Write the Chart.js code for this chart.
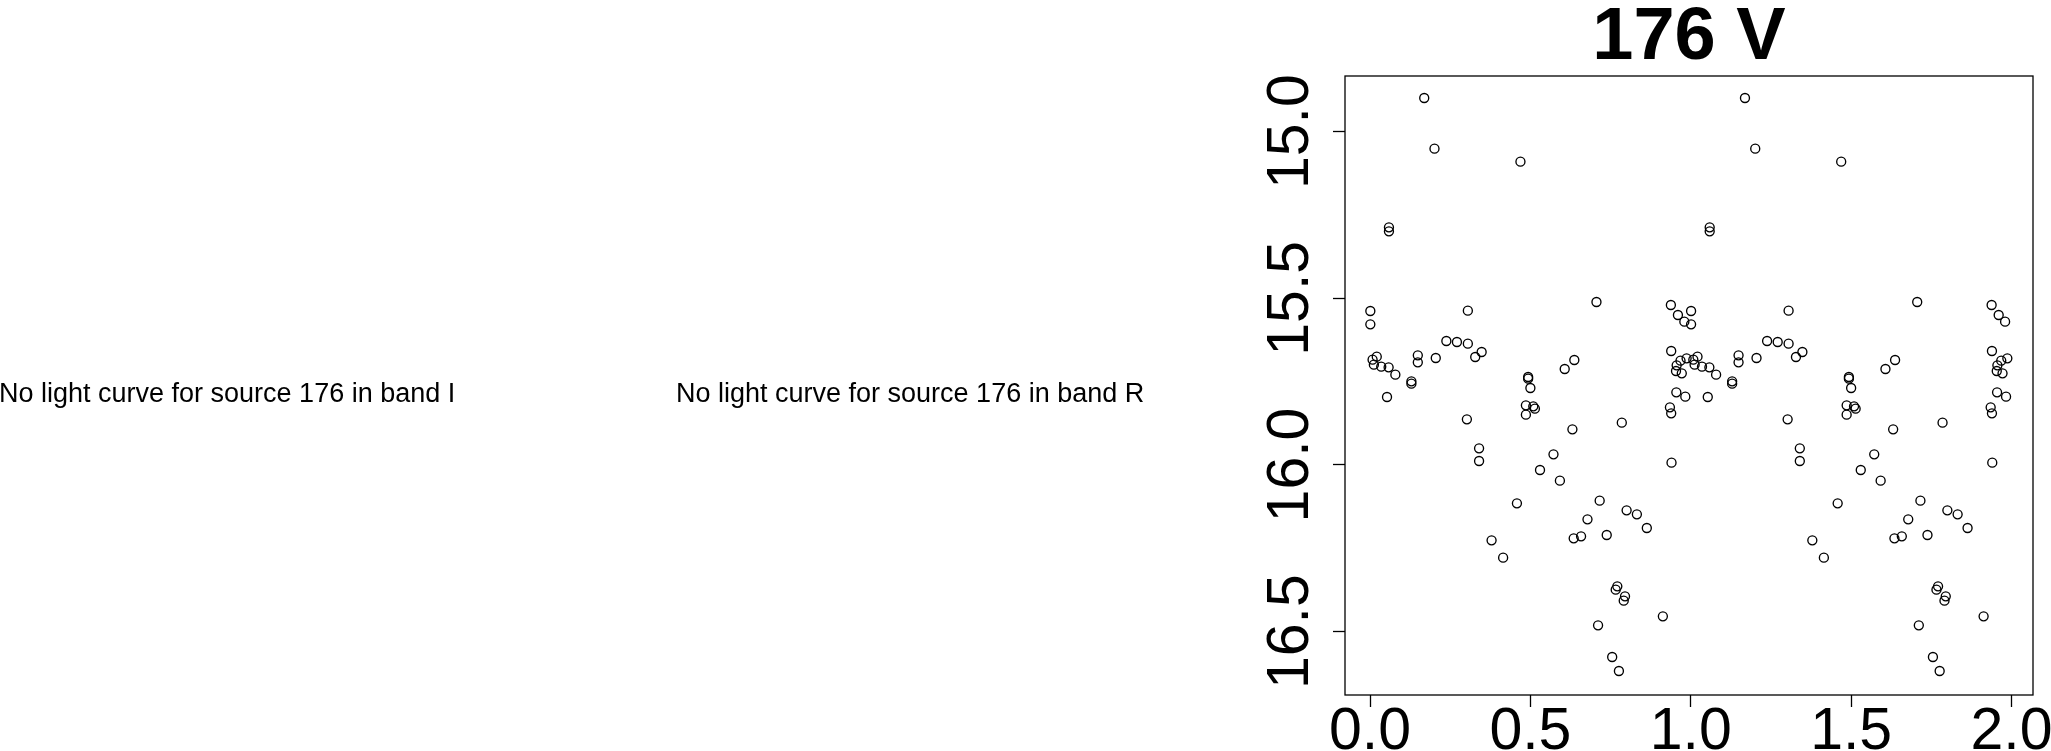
<!DOCTYPE html>
<html>
<head>
<meta charset="utf-8">
<title>176 V</title>
<script src="https://cdn.jsdelivr.net/npm/chart.js@4.4.1/dist/chart.umd.min.js"></script>
<style>
  html, body { margin: 0; padding: 0; background: #fff; }
  #wrap { width: 2051px; height: 751px; }
</style>
</head>
<body>
<div id="wrap"><canvas id="lc" width="2051" height="751"></canvas></div>
<script>
// phase-folded V light curve of source 176 (phase 0..1, plotted twice)
var phase = [
  0.001, 0.001, 0.008, 0.012, 0.021, 0.035, 0.053, 0.058, 0.059, 0.059,
  0.079, 0.129, 0.129, 0.149, 0.149, 0.169, 0.201, 0.205, 0.238, 0.271,
  0.302, 0.305, 0.305, 0.328, 0.340, 0.340, 0.348, 0.379, 0.415, 0.458,
  0.469, 0.486, 0.486, 0.493, 0.493, 0.500, 0.509, 0.514, 0.530, 0.572,
  0.592, 0.607, 0.631, 0.635, 0.637, 0.658, 0.678, 0.706, 0.711, 0.716,
  0.738, 0.755, 0.766, 0.771, 0.776, 0.785, 0.791, 0.795, 0.800, 0.832,
  0.863, 0.913, 0.935, 0.938, 0.939, 0.939, 0.940, 0.954, 0.955, 0.956,
  0.960, 0.968, 0.972, 0.980, 0.983, 0.987
];
var mag = [
  15.538, 15.578, 15.684, 15.699, 15.675, 15.705, 15.796, 15.707, 15.287, 15.299,
  15.729, 15.749, 15.756, 15.671, 15.692, 14.899, 15.051, 15.679, 15.628, 15.631,
  15.863, 15.636, 15.537, 15.676, 15.950, 15.988, 15.661, 16.226, 16.278, 16.115,
  15.090, 15.821, 15.849, 15.736, 15.741, 15.769, 15.824, 15.831, 16.015, 15.968,
  16.047, 15.712, 15.893, 16.220, 15.685, 16.214, 16.163, 15.511, 16.481, 16.107,
  16.210, 16.576, 16.374, 16.364, 16.618, 15.873, 16.407, 16.394, 16.136, 16.148,
  16.189, 16.454, 15.827, 15.520, 15.658, 15.845, 15.993, 15.718, 15.782, 15.701,
  15.550, 15.687, 15.725, 15.570, 15.795, 15.680
];
var xTicks = [0, 0.5, 1, 1.5, 2];
var yTicks = [15, 15.5, 16, 16.5];
var title = '176 V';
var notes = ['No light curve for source 176 in band I', 'No light curve for source 176 in band R'];

var FONT = '"Liberation Sans", Arial, Helvetica, sans-serif';

// two cycles: phase and phase + 1
var points = [];
for (var c = 0; c < 2; c++) {
  for (var i = 0; i < phase.length; i++) {
    points.push({ x: phase[i] + c, y: mag[i] });
  }
}

// frame, tick labels, title and the two notes
var rDecor = {
  id: 'rDecor',
  afterDraw: function (chart) {
    var ctx = chart.ctx, a = chart.chartArea;
    var xs = chart.scales.x, ys = chart.scales.y;
    ctx.save();
    ctx.strokeStyle = '#000';
    ctx.lineWidth = 1.3;
    ctx.strokeRect(a.left, a.top, a.right - a.left, a.bottom - a.top);

    ctx.fillStyle = '#000';
    ctx.font = '59px ' + FONT;
    ctx.textAlign = 'center';
    ctx.textBaseline = 'alphabetic';
    xs.ticks.forEach(function (t) {
      ctx.fillText(t.value.toFixed(1), xs.getPixelForValue(t.value), 749);
    });
    ys.ticks.forEach(function (t) {
      ctx.save();
      ctx.translate(1308, ys.getPixelForValue(t.value));
      ctx.rotate(-Math.PI / 2);
      ctx.fillText(t.value.toFixed(1), 0, 0);
      ctx.restore();
    });

    ctx.font = 'bold 74px ' + FONT;
    ctx.fillText(title, (a.left + a.right) / 2, 59);

    ctx.font = '27px ' + FONT;
    ctx.textAlign = 'left';
    ctx.fillText(notes[0], -1, 402);
    ctx.fillText(notes[1], 676, 402);
    ctx.restore();
  }
};

var tickGrid = {
  display: true,
  drawOnChartArea: false,
  drawTicks: true,
  tickLength: 12,
  tickWidth: 1.3,
  tickColor: '#000',
  color: '#000'
};

new Chart(document.getElementById('lc').getContext('2d'), {
  type: 'scatter',
  data: {
    datasets: [{
      data: points,
      pointStyle: 'circle',
      pointRadius: 4.5,
      pointHoverRadius: 4.5,
      borderWidth: 1.35,
      borderColor: '#000',
      backgroundColor: 'rgba(0,0,0,0)'
    }]
  },
  options: {
    responsive: false,
    animation: false,
    devicePixelRatio: 1,
    layout: { padding: { left: 1345, top: 76, right: 18, bottom: 56 } },
    plugins: { legend: { display: false }, tooltip: { enabled: false }, title: { display: false } },
    scales: {
      x: {
        type: 'linear',
        min: -0.078,
        max: 2.067,
        grid: tickGrid,
        border: { display: false },
        ticks: { display: false },
        afterBuildTicks: function (s) { s.ticks = xTicks.map(function (v) { return { value: v }; }); },
        afterFit: function (s) { s.height = 0; s.paddingLeft = 0; s.paddingRight = 0; }
      },
      y: {
        type: 'linear',
        reverse: true,
        min: 14.833,
        max: 16.690,
        grid: tickGrid,
        border: { display: false },
        ticks: { display: false },
        afterBuildTicks: function (s) { s.ticks = yTicks.map(function (v) { return { value: v }; }); },
        afterFit: function (s) { s.width = 0; s.paddingTop = 0; s.paddingBottom = 0; }
      }
    }
  },
  plugins: [rDecor]
});
</script>
</body>
</html>
